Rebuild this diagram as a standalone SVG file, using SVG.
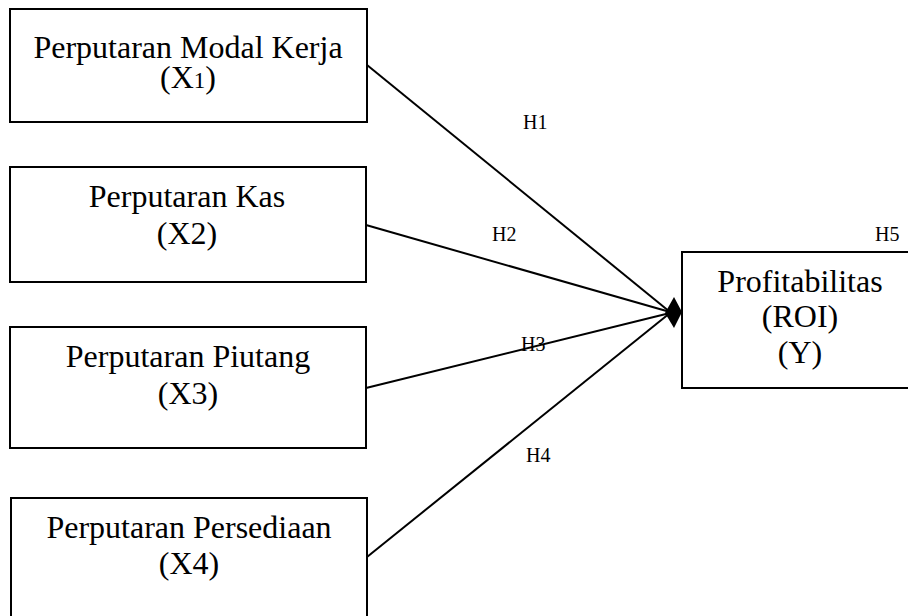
<svg xmlns="http://www.w3.org/2000/svg" width="908" height="616" viewBox="0 0 908 616">
<style>
.box{fill:#fff;stroke:#000;stroke-width:2}
.t{font-family:"Liberation Serif","Times New Roman",serif;font-size:32px;fill:#000;text-anchor:middle}
.h{font-family:"Liberation Serif","Times New Roman",serif;font-size:20px;fill:#000}
.c{stroke:#000;stroke-width:2;fill:none}
</style>
<rect width="908" height="616" fill="#fff"/>
<g id="connectors">
<line class="c" x1="367" y1="65" x2="670" y2="312"/>
<line class="c" x1="366" y1="225" x2="670" y2="312"/>
<line class="c" x1="366" y1="388" x2="670" y2="313"/>
<line class="c" x1="367" y1="557" x2="670" y2="313"/>
<polygon points="665,313 674,297 682,312 674,328" fill="#000"/>
</g>
<g id="labels">
<text class="h" x="523" y="129">H1</text>
<text class="h" x="492" y="241">H2</text>
<text class="h" x="521" y="351">H3</text>
<text class="h" x="526" y="462">H4</text>
<text class="h" x="875" y="241">H5</text>
</g>
<g id="x1">
<rect class="box" x="10" y="9" width="357" height="113"/>
<text class="t" x="188" y="58">Perputaran Modal Kerja</text>
<text class="t" x="188" y="88">(X<tspan font-size="23px">1</tspan>)</text>
</g>
<g id="x2">
<rect class="box" x="10" y="167" width="356" height="115"/>
<text class="t" x="187" y="207">Perputaran Kas</text>
<text class="t" x="187" y="244">(X2)</text>
</g>
<g id="x3">
<rect class="box" x="10" y="327" width="356" height="121"/>
<text class="t" x="188" y="367">Perputaran Piutang</text>
<text class="t" x="188" y="404">(X3)</text>
</g>
<g id="x4">
<rect class="box" x="11" y="498" width="356" height="124"/>
<text class="t" x="189" y="538">Perputaran Persediaan</text>
<text class="t" x="189" y="574">(X4)</text>
</g>
<g id="y">
<rect class="box" x="682" y="252" width="238" height="136"/>
<text class="t" x="800" y="292">Profitabilitas</text>
<text class="t" x="800" y="327">(ROI)</text>
<text class="t" x="800" y="363">(Y)</text>
</g>
</svg>
